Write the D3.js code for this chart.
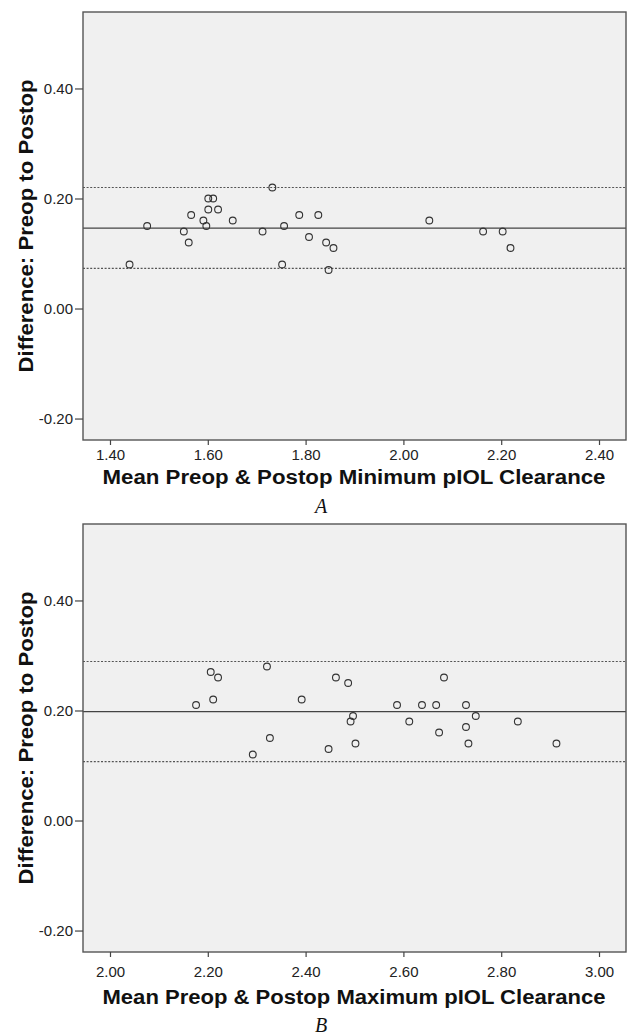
<!DOCTYPE html>
<html>
<head>
<meta charset="utf-8">
<script src="https://cdn.jsdelivr.net/npm/d3@7"></script>
<style>
  body { margin: 0; background: #fff; }
  svg { display: block; }
</style>
</head>
<body>
<script>
// Bland-Altman: minimum pIOL clearance (A)
const minMean = [1.440, 1.476, 1.551, 1.561, 1.566, 1.591, 1.597, 1.601, 1.611, 1.601, 1.621, 1.651, 1.712,
                 1.732, 1.752, 1.756, 1.787, 1.807, 1.826, 1.842, 1.847, 1.857, 2.053, 2.163, 2.203, 2.219];
const minDiff = [0.08, 0.15, 0.14, 0.12, 0.17, 0.16, 0.15, 0.20, 0.20, 0.18, 0.18, 0.16, 0.14,
                 0.22, 0.08, 0.15, 0.17, 0.13, 0.17, 0.12, 0.07, 0.11, 0.16, 0.14, 0.14, 0.11];
const minLines = [0.146, 0.220, 0.073]; // mean, upper, lower limit
const minXTicks = [1.40, 1.60, 1.80, 2.00, 2.20, 2.40];

// Bland-Altman: maximum pIOL clearance (B)
const maxMean = [2.176, 2.206, 2.221, 2.211, 2.292, 2.321, 2.327, 2.392, 2.462, 2.487, 2.447, 2.497, 2.492,
                 2.502, 2.587, 2.612, 2.638, 2.667, 2.673, 2.683, 2.728, 2.728, 2.733, 2.748, 2.834, 2.913];
const maxDiff = [0.21, 0.27, 0.26, 0.22, 0.12, 0.28, 0.15, 0.22, 0.26, 0.25, 0.13, 0.19, 0.18,
                 0.14, 0.21, 0.18, 0.21, 0.21, 0.16, 0.26, 0.21, 0.17, 0.14, 0.19, 0.18, 0.14];
const maxLines = [0.198, 0.289, 0.107];
const maxXTicks = [2.00, 2.20, 2.40, 2.60, 2.80, 3.00];

const yTicks = [-0.20, 0.00, 0.20, 0.40];
const yDomain = [-0.239, 0.539];

const W = 633, H = 1034;
const font = "'Liberation Sans', Arial, sans-serif";
// SPSS prints a plain hyphen, not the unicode minus
const fmt = d => d.toFixed(2);

let svg = d3.select("body").append("svg").attr("width", W).attr("height", H);

function drawPanel(opt) {
    let { top, xs, ys, lines, xTicks, xDomain, title, letter, labelDy, titleDy, letterDy } = opt;
    let left = 83, right = 626, bottom = top + 428;

    let x = d3.scaleLinear().domain(xDomain).range([left, right]);
    let y = d3.scaleLinear().domain(yDomain).range([bottom, top]);

    let g = svg.append("g");

    g.append("rect")
        .attr("x", left).attr("y", top)
        .attr("width", right - left).attr("height", bottom - top)
        .attr("fill", "#f0f0f0");

    // mean and limits of agreement
    g.selectAll("line.ref").data(lines).join("line")
        .attr("class", "ref")
        .attr("x1", left).attr("x2", right)
        .attr("y1", d => y(d)).attr("y2", d => y(d))
        .attr("stroke", (d, i) => i === 0 ? "#444" : "#555")
        .attr("stroke-width", (d, i) => i === 0 ? 1.3 : 1.1)
        .attr("stroke-dasharray", (d, i) => i === 0 ? null : "2,1.6");

    g.selectAll("circle").data(d3.zip(xs, ys)).join("circle")
        .attr("cx", d => x(d[0])).attr("cy", d => y(d[1]))
        .attr("r", 3.4)
        .attr("fill", "none")
        .attr("stroke", "#333")
        .attr("stroke-width", 1.1);

    g.append("rect")
        .attr("x", left).attr("y", top)
        .attr("width", right - left).attr("height", bottom - top)
        .attr("fill", "none").attr("stroke", "#555").attr("stroke-width", 1.4);

    let yAxis = g.append("g")
        .attr("transform", `translate(${left},0)`)
        .call(d3.axisLeft(y).tickValues(yTicks).tickSize(8).tickPadding(2).tickFormat(fmt));
    let xAxis = g.append("g")
        .attr("transform", `translate(0,${bottom})`)
        .call(d3.axisBottom(x).tickValues(xTicks).tickSize(5).tickPadding(3).tickFormat(fmt));

    [yAxis, xAxis].forEach(a => {
        a.select(".domain").remove();
        a.selectAll(".tick line").attr("stroke", "#444").attr("stroke-width", 1.2);
        a.selectAll(".tick text")
            .attr("fill", "#222")
            .style("font-family", font)
            .style("font-size", "15px");
    });
    xAxis.selectAll(".tick text").attr("y", labelDy).attr("dy", "0.35em");

    g.append("text")
        .attr("x", 354).attr("y", bottom + titleDy)
        .attr("text-anchor", "middle").attr("dy", "0.35em")
        .attr("textLength", 503).attr("lengthAdjust", "spacingAndGlyphs")
        .style("font-family", font).style("font-weight", "bold").style("font-size", "20px")
        .attr("fill", "#111")
        .text(title);

    g.append("text")
        .attr("transform", `translate(26,${(top + bottom) / 2}) rotate(-90)`)
        .attr("text-anchor", "middle").attr("dy", "0.35em")
        .attr("textLength", 293).attr("lengthAdjust", "spacingAndGlyphs")
        .style("font-family", font).style("font-weight", "bold").style("font-size", "20px")
        .attr("fill", "#111")
        .text("Difference: Preop to Postop");

    g.append("text")
        .attr("x", 321).attr("y", bottom + letterDy)
        .attr("text-anchor", "middle").attr("dy", "0.35em")
        .style("font-family", "'Liberation Serif', 'Times New Roman', serif")
        .style("font-style", "italic").style("font-size", "20px")
        .attr("fill", "#111")
        .text(letter);
}

drawPanel({ top: 12, xs: minMean, ys: minDiff, lines: minLines, xTicks: minXTicks, xDomain: [1.3448, 2.4552],
            title: "Mean Preop & Postop Minimum pIOL Clearance", letter: "A",
            labelDy: 14.5, titleDy: 36.5, letterDy: 65.5 });
drawPanel({ top: 524, xs: maxMean, ys: maxDiff, lines: maxLines, xTicks: maxXTicks, xDomain: [1.9448, 3.0552],
            title: "Mean Preop & Postop Maximum pIOL Clearance", letter: "B",
            labelDy: 19.5, titleDy: 44.5, letterDy: 72.5 });
</script>
</body>
</html>
